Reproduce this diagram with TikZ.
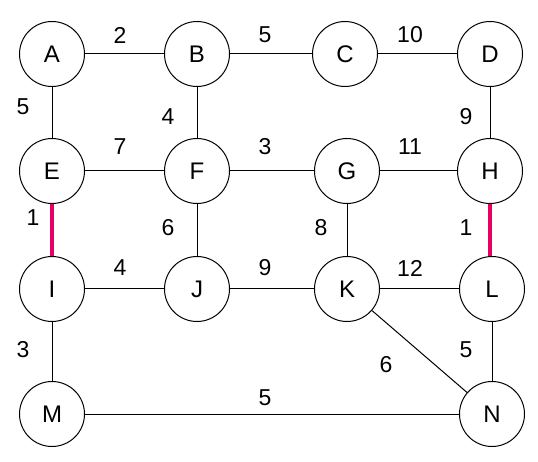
\documentclass[tikz,border=0pt]{standalone}
\usepackage{fontspec}
\setmainfont{Liberation Sans}
\definecolor{hot}{RGB}{230,0,100}
\begin{document}
\begin{tikzpicture}[x=1pt,y=-1pt,
  vtx/.style={circle,draw=black,line width=1pt,minimum size=65pt,inner sep=0pt,font=\fontsize{24}{24}\selectfont},
  edge/.style={draw=black,line width=1pt},
  hotedge/.style={draw=hot,line width=4pt},
  wt/.style={font=\fontsize{23}{23}\selectfont,inner sep=0pt}]
\useasboundingbox (0,0) rectangle (538,462);
\node[vtx] (A) at (52,54) {A};
\node[vtx] (B) at (197,54) {B};
\node[vtx] (C) at (345,54) {C};
\node[vtx] (D) at (490,54) {D};
\node[vtx] (E) at (52,171) {E};
\node[vtx] (F) at (197,171) {F};
\node[vtx] (G) at (347,171) {G};
\node[vtx] (H) at (490,171) {H};
\node[vtx] (I) at (52,289) {I};
\node[vtx] (J) at (197,289) {J};
\node[vtx] (K) at (347,289) {K};
\node[vtx] (L) at (492,289) {L};
\node[vtx] (M) at (52,414) {M};
\node[vtx] (N) at (492,414) {N};
\draw[edge] (A) -- (B);
\draw[edge] (B) -- (C);
\draw[edge] (C) -- (D);
\draw[edge] (A) -- (E);
\draw[edge] (B) -- (F);
\draw[edge] (D) -- (H);
\draw[edge] (E) -- (F);
\draw[edge] (F) -- (G);
\draw[edge] (G) -- (H);
\draw[hotedge] (E) -- (I);
\draw[edge] (F) -- (J);
\draw[edge] (G) -- (K);
\draw[hotedge] (H.south) -- (H.south |- L.north);
\draw[edge] (I) -- (J);
\draw[edge] (J) -- (K);
\draw[edge] (K) -- (L);
\draw[edge] (I) -- (M);
\draw[edge] (L) -- (N);
\draw[edge] (K) -- (N);
\draw[edge] (M) -- (N);
\node[wt] (w1) at (120,35) {2};
\node[wt] (w2) at (265,35) {5};
\node[wt] (w3) at (410,35) {10};
\node[wt] (w4) at (23,107) {5};
\node[wt] (w5) at (168,117) {4};
\node[wt] (w6) at (466,117) {9};
\node[wt] (w7) at (120,147) {7};
\node[wt] (w8) at (265,147) {3};
\node[wt] (w9) at (410,147) {11};
\node[wt] (w10) at (33,218) {1};
\node[wt] (w11) at (168,228) {6};
\node[wt] (w12) at (321,228) {8};
\node[wt] (w13) at (466,228) {1};
\node[wt] (w14) at (120,268) {4};
\node[wt] (w15) at (265,268) {9};
\node[wt] (w16) at (410,268) {12};
\node[wt] (w17) at (23,350) {3};
\node[wt] (w18) at (466,350) {5};
\node[wt] (w19) at (386,365) {6};
\node[wt] (w20) at (265,398) {5};
\end{tikzpicture}
\end{document}
